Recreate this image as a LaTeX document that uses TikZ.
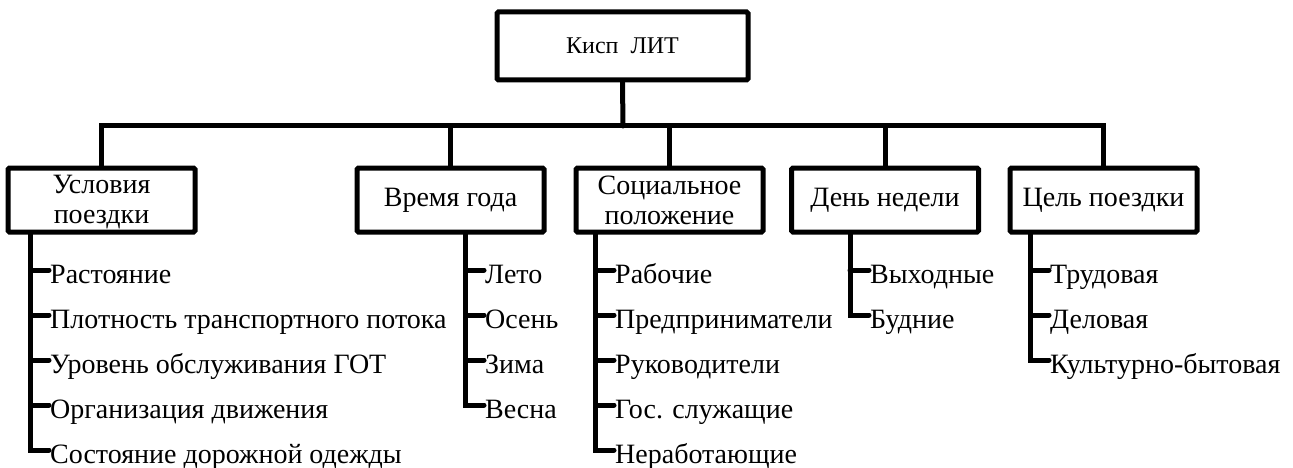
\documentclass[tikz,border=0pt]{standalone}
\usepackage{fontspec}
\setmainfont{Liberation Serif}
\newfontfamily\tnr{Liberation Serif}
\usetikzlibrary{calc}
\tikzset{
  txt/.style={font=\tnr\fontsize{28}{32}\selectfont},
  box/.style={draw=black, line width=5pt, rounded corners=1.5pt, fill=white,
    minimum width=187pt, minimum height=64pt, align=center, inner sep=2pt, txt},
  conn/.style={line width=5pt, line join=miter, line cap=round},
  item/.style={anchor=west, text height=28pt, text depth=2pt, inner sep=1pt, txt},
}
\begin{document}
\begin{tikzpicture}[x=1pt,y=-1pt]
\useasboundingbox (0,0) rectangle (1293,468);
% top
\node[box, minimum width=251pt, minimum height=68pt, font=\tnr\fontsize{24}{28}\selectfont] (top) at (622.5,46) {Кисп\ \ ЛИТ};
% children
\node[box] (c1) at (101.5,200) {\rule{0pt}{22.5pt}Условия\\[-2pt]поездки};
\node[box] (c2) at (450.5,200) {Время года};
\node[box] (c3) at (669.5,200) {Социальное\\[-2pt]положение};
\node[box] (c4) at (885,200) {День недели};
\node[box] (c5) at (1103.5,200) {Цель поездки};
\coordinate (bus) at (623,126);
\draw[conn] (top.south) -- (bus);
\draw[conn] (c1.north) |- (bus) -| (c5.north);
\foreach \c in {c2,c3,c4} \draw[conn] (\c.north) -- (\c.north |- bus);
% leaves group 1
\node[item] (i11) at (49,270) {Растояние};
\node[item] (i12) at (49,315) {Плотность транспортного потока};
\node[item] (i13) at (49,360) {Уровень обслуживания ГОТ};
\node[item] (i14) at (49,405) {Организация движения};
\node[item] (i15) at (49,450) {Состояние дорожной одежды};
\coordinate (v1) at ($(c1.south west)+(25,0)$);
\draw[conn] (v1) |- (i15.west);
\foreach \i in {i11,i12,i13,i14} \draw[conn] (v1 |- \i.west) -- (\i.west);
% group 2
\node[item] (i21) at (484,270) {Лето};
\node[item] (i22) at (484,315) {Осень};
\node[item] (i23) at (484,360) {Зима};
\node[item] (i24) at (484,405) {Весна};
\coordinate (v2) at ($(c2.south west)+(111,0)$);
\draw[conn] (v2) |- (i24.west);
\foreach \i in {i21,i22,i23} \draw[conn] (v2 |- \i.west) -- (\i.west);
% group 3
\node[item] (i31) at (614,270) {Рабочие};
\node[item] (i32) at (614,315) {Предприниматели};
\node[item] (i33) at (614,360) {Руководители};
\node[item] (i34) at (614,405) {Гос. служащие};
\node[item] (i35) at (614,450) {Неработающие};
\coordinate (v3) at ($(c3.south west)+(22,0)$);
\draw[conn] (v3) |- (i35.west);
\foreach \i in {i31,i32,i33,i34} \draw[conn] (v3 |- \i.west) -- (\i.west);
% group 4
\node[item] (i41) at (869,270) {Выходные};
\node[item] (i42) at (869,315) {Будние};
\coordinate (v4) at ($(c4.south west)+(61,0)$);
\draw[conn] (v4) |- (i42.west);
\draw[conn] (v4 |- i41.west) -- (i41.west);
% group 5
\node[item] (i51) at (1049,270) {Трудовая};
\node[item] (i52) at (1049,315) {Деловая};
\node[item] (i53) at (1049,360) {Культурно-бытовая};
\coordinate (v5) at ($(c5.south west)+(23,0)$);
\draw[conn] (v5) |- (i53.west);
\foreach \i in {i51,i52} \draw[conn] (v5 |- \i.west) -- (\i.west);
\end{tikzpicture}
\end{document}
